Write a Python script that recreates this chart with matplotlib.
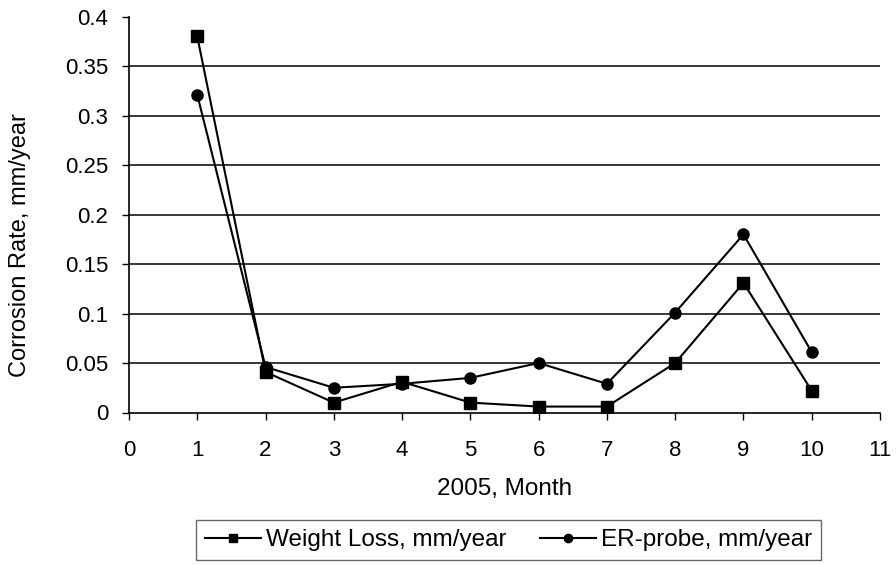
import matplotlib
matplotlib.use("Agg")
import matplotlib.pyplot as plt

months = [1, 2, 3, 4, 5, 6, 7, 8, 9, 10]
weight_loss = [0.38, 0.041, 0.01, 0.031, 0.01, 0.006, 0.006, 0.05, 0.131, 0.022]
er_probe = [0.321, 0.046, 0.025, 0.029, 0.035, 0.05, 0.029, 0.101, 0.18, 0.061]
x_ticks = list(range(0, 12))
y_ticks = [0, 0.05, 0.1, 0.15, 0.2, 0.25, 0.3, 0.35, 0.4]
y_tick_labels = ["0", "0.05", "0.1", "0.15", "0.2", "0.25", "0.3", "0.35", "0.4"]

plt.rcParams["font.family"] = ["Liberation Sans", "DejaVu Sans"]
tick_fs = 16
label_fs = 17.5
legend_fs = 17.5

W, H = 896, 565
fig = plt.figure(figsize=(W / 100, H / 100), dpi=100)
ax = fig.add_axes([129 / W, 1 - 412.5 / H, (880 - 129) / W, (412.5 - 16.7) / H])

for yv in y_ticks[1:-1]:
    ax.axhline(yv, color="black", lw=1.1, zorder=1)

ax.plot(months, weight_loss, color="black", lw=1.5, marker="s", ms=8,
        label="Weight Loss, mm/year", zorder=3)
ax.plot(months, er_probe, color="black", lw=1.5, marker="o", ms=8,
        label="ER-probe, mm/year", zorder=3)

ax.set_xlim(0, 11)
ax.set_ylim(0, 0.4)
ax.set_xticks(x_ticks)
ax.set_xticklabels([str(v) for v in x_ticks], fontsize=tick_fs)
ax.set_yticks(y_ticks)
ax.set_yticklabels(y_tick_labels, fontsize=tick_fs)
ax.tick_params(axis="x", direction="out", length=5, width=1, pad=15)
ax.tick_params(axis="y", direction="out", length=5, width=1, pad=10)

for side in ("top", "right"):
    ax.spines[side].set_visible(False)
for side in ("left", "bottom"):
    ax.spines[side].set_linewidth(1.2)
    ax.spines[side].set_zorder(2)

ax.set_xlabel("2005, Month", fontsize=label_fs, labelpad=12)
ax.set_ylabel("Corrosion Rate, mm/year", fontsize=label_fs - 0.5)
ax.yaxis.set_label_coords((31 - 129) / (880 - 129), (412.5 - 245) / (412.5 - 16.7))

leg = fig.legend(loc="center", bbox_to_anchor=(508.5 / W, 1 - 540 / H), ncol=2,
                 fontsize=legend_fs, frameon=True, fancybox=False, edgecolor="#444444",
                 handlelength=2.3, handletextpad=0.2, columnspacing=1.4,
                 borderpad=0.35, markerscale=0.75)
leg.get_frame().set_linewidth(1.0)

fig.savefig("out.png", dpi=100)
